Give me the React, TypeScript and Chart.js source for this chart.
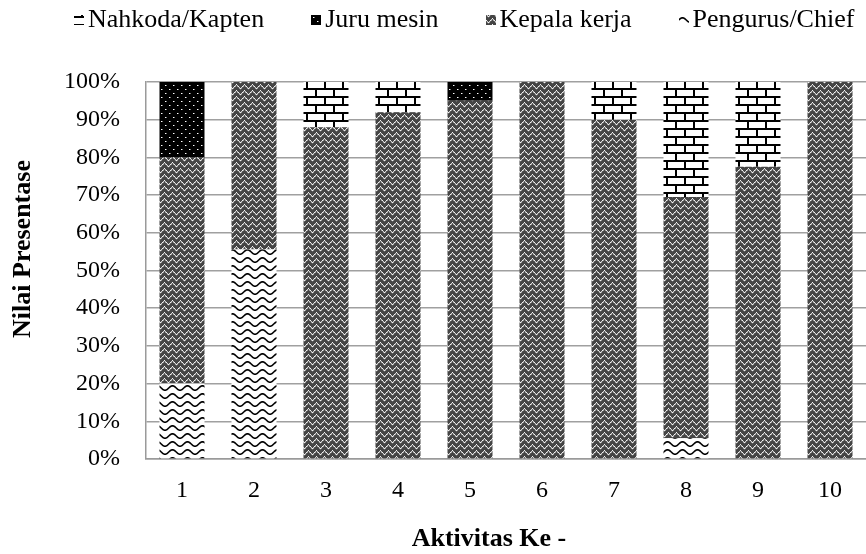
import React, { useEffect, useRef } from 'react';
import { Chart, registerables } from 'chart.js';

Chart.register(...registerables);

// ---- data ----
const categories = ['1', '2', '3', '4', '5', '6', '7', '8', '9', '10'];
const pengurusChief = [20, 55.6, 0, 0, 0, 0, 0, 5.5, 0, 0];
const kepalaKerja = [60, 44.4, 88, 92, 95, 100, 90, 64, 77.5, 100];
const juruMesin = [20, 0, 0, 0, 5, 0, 0, 0, 0, 0];
const nahkodaKapten = [0, 0, 12, 8, 0, 0, 10, 30.5, 22.5, 0];
const seriesLabels = ['Pengurus/Chief', 'Kepala kerja', 'Juru mesin', 'Nahkoda/Kapten'];
const yTickStep = 10;
const yMax = 100;
const xTitle = 'Aktivitas Ke -';
const yTitle = 'Nilai Presentase';

const FONT = '"Liberation Serif", "Times New Roman", serif';

function tile(w: number, h: number, draw: (g: CanvasRenderingContext2D) => void) {
  const c = document.createElement('canvas');
  c.width = w;
  c.height = h;
  const g = c.getContext('2d')!;
  draw(g);
  return c;
}

function px(g: CanvasRenderingContext2D, x: number, y: number, color: string, w = 1, h = 1) {
  g.fillStyle = color;
  g.fillRect(x, y, w, h);
}

function makePatterns(ctx: CanvasRenderingContext2D) {
  // Kepala kerja: dark grey with light dotted chevrons
  const kepala = tile(8, 6, (g) => {
    g.fillStyle = '#454545';
    g.fillRect(0, 0, 8, 6);
    for (let x = 0; x < 8; x++) {
      const y = Math.abs(x - 4);
      px(g, x, y, x % 2 === 0 ? '#f4f4f4' : '#cfcfcf');
      px(g, x, (y + 1) % 6, x % 2 === 1 ? '#9a9a9a' : '#666666');
    }
  });
  // Juru mesin: black with white dots
  const juru = tile(8, 8, (g) => {
    g.fillStyle = '#000';
    g.fillRect(0, 0, 8, 8);
    px(g, 1, 1, '#ffffff');
    px(g, 5, 5, '#ffffff');
    px(g, 2, 1, '#777777');
    px(g, 6, 5, '#777777');
  });
  // Nahkoda: brick
  const brick = tile(18, 16, (g) => {
    g.fillStyle = '#fff';
    g.fillRect(0, 0, 18, 16);
    g.fillStyle = '#000';
    g.fillRect(0, 0, 18, 2);
    g.fillRect(0, 8, 18, 2);
    g.fillRect(0, 2, 2, 6);
    g.fillRect(9, 10, 2, 6);
  });
  // Pengurus: waves
  const wave = tile(15, 8, (g) => {
    g.fillStyle = '#fff';
    g.fillRect(0, 0, 15, 8);
    g.strokeStyle = '#000';
    g.lineWidth = 1.6;
    g.beginPath();
    for (let x = -1; x <= 16; x += 0.5) {
      const y = 4 + 2.2 * Math.cos((2 * Math.PI * x) / 15);
      if (x === -1) g.moveTo(x, y);
      else g.lineTo(x, y);
    }
    g.stroke();
  });
  return {
    kepala: ctx.createPattern(kepala, 'repeat')!,
    juru: ctx.createPattern(juru, 'repeat')!,
    brick: ctx.createPattern(brick, 'repeat')!,
    wave: ctx.createPattern(wave, 'repeat')!,
  };
}

// legend drawn in reference order (reverse of stacking order)
const legendPlugin = {
  id: 'refLegend',
  afterDraw(chart: any) {
    const ctx: CanvasRenderingContext2D = chart.ctx;
    ctx.save();
    ctx.font = `26px ${FONT}`;
    ctx.textBaseline = 'middle';
    const items = chart.data.datasets
      .map((ds: any) => ({ label: ds.label as string, fill: ds.backgroundColor }))
      .reverse();
    const box = 10;
    const gapText = 4;
    const gapItem = 47;
    let x = 74;
    const y = 20.5;
    items.forEach((it: any) => {
      ctx.fillStyle = it.fill;
      ctx.fillRect(Math.round(x), 15, box, box);
      ctx.fillStyle = '#000';
      const w = ctx.measureText(it.label).width;
      ctx.fillText(it.label, x + box + gapText, y);
      x += box + gapText + w + gapItem;
    });
    ctx.restore();
  },
};

// axis titles (placed as in the reference)
const axisTitlePlugin = {
  id: 'axisTitles',
  afterDraw(chart: any) {
    const ctx: CanvasRenderingContext2D = chart.ctx;
    ctx.save();
    ctx.fillStyle = '#000';
    ctx.font = `bold 26px ${FONT}`;
    ctx.textAlign = 'center';
    ctx.textBaseline = 'middle';
    ctx.fillText(xTitle, 489, 539);
    ctx.translate(23, 249);
    ctx.rotate(-Math.PI / 2);
    ctx.fillText(yTitle, 0, 0);
    ctx.restore();
  },
};

export default function App() {
  const ref = useRef<HTMLCanvasElement>(null);
  useEffect(() => {
    const canvas = ref.current!;
    const ctx = canvas.getContext('2d')!;
    const p = makePatterns(ctx);
    const chart = new Chart(canvas, {
      type: 'bar',
      data: {
        labels: categories,
        datasets: [
          { label: seriesLabels[0], data: pengurusChief, backgroundColor: p.wave as any },
          { label: seriesLabels[1], data: kepalaKerja, backgroundColor: p.kepala as any },
          { label: seriesLabels[2], data: juruMesin, backgroundColor: p.juru as any },
          { label: seriesLabels[3], data: nahkodaKapten, backgroundColor: p.brick as any },
        ],
      },
      options: {
        responsive: false,
        animation: false,
        devicePixelRatio: 1,
        layout: { padding: { top: 82, left: 38, right: 0, bottom: 31 } },
        datasets: { bar: { categoryPercentage: 1, barPercentage: 0.625, borderWidth: 0 } },
        plugins: {
          legend: { display: false },
          tooltip: { enabled: false },
        },
        scales: {
          x: {
            stacked: true,
            grid: { display: false, drawTicks: false },
            border: { display: true, color: '#9a9a9a', width: 1.5 },
            ticks: { color: '#000', padding: 20, font: { family: FONT, size: 24, lineHeight: 1 } },
          },
          y: {
            stacked: true,
            min: 0,
            max: yMax,
            ticks: {
              stepSize: yTickStep,
              color: '#000',
              padding: 26,
              font: { family: FONT, size: 24 },
              callback: (v: any) => `${v}%`,
            },
            grid: { color: '#a0a0a0', lineWidth: 1.5, drawTicks: false },
            border: { display: true, color: '#9a9a9a', width: 1.5 },
          },
        },
      },
      plugins: [legendPlugin, axisTitlePlugin],
    });
    return () => chart.destroy();
  }, []);
  return (
    <div style={{ position: 'absolute', left: 0, top: 0, width: 866, height: 554, background: '#fff' }}>
      <canvas ref={ref} width={866} height={554} style={{ display: 'block' }} />
    </div>
  );
}
